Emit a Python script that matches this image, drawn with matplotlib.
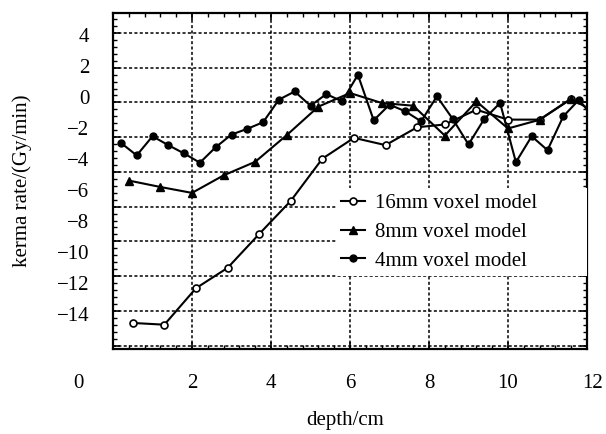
import matplotlib
matplotlib.use('Agg')
import matplotlib.pyplot as plt
from matplotlib.ticker import MultipleLocator
from matplotlib.transforms import ScaledTranslation

plt.rcParams['font.family'] = ['Liberation Serif', 'DejaVu Serif']

# 16mm voxel model
x16 = [0.5, 1.3, 2.1, 2.9, 3.7, 4.5, 5.3, 6.1, 6.9, 7.7, 8.4, 9.2, 10.0, 10.8, 11.6]
y16 = [-12.70, -12.80, -10.70, -9.53, -7.58, -5.67, -3.24, -2.04, -2.46, -1.43,
       -1.27, -0.42, -0.99, -0.99, 0.22]

# 8mm voxel model
x8 = [0.4, 1.2, 2.0, 2.8, 3.6, 4.4, 5.2, 6.0, 6.8, 7.6, 8.4, 9.2, 10.0, 10.8, 11.6, 12.4]
y8 = [-4.50, -4.87, -5.21, -4.20, -3.42, -1.88, -0.24, 0.54, -0.03, -0.19,
      -1.91, 0.06, -1.50, -1.00, 0.20, -0.80]

# 4mm voxel model
x4 = [0.2, 0.6, 1.0, 1.4, 1.8, 2.2, 2.6, 3.0, 3.4, 3.8, 4.2, 4.6, 5.0, 5.4, 5.8, 6.2,
      6.6, 7.0, 7.4, 7.8, 8.2, 8.6, 9.0, 9.4, 9.8, 10.2, 10.6, 11.0, 11.4, 11.8, 12.2]
y4 = [-2.33, -3.05, -1.95, -2.46, -2.94, -3.47, -2.58, -1.85, -1.52, -1.14, 0.16, 0.63,
      -0.19, 0.48, 0.06, 1.59, -1.03, -0.13, -0.51, -1.09, 0.35, -0.95, -2.42, -0.95,
      -0.03, -3.44, -1.95, -2.75, -0.80, 0.16, -1.00]

y_labels = list(range(-14, 5, 2))
x_labels = list(range(0, 13, 2))

W, H = 606, 434
fig = plt.figure(figsize=(W / 100, H / 100), dpi=100)
ax = fig.add_axes([113 / W, 1 - 349 / H, 474 / W, 336 / H])

ax.plot(x16, y16, '-o', color='k', mfc='white', ms=5, mew=1.2, lw=1.5, label='16mm voxel model')
ax.plot(x8, y8, '-^', color='k', ms=6, lw=1.5, label='8mm voxel model')
ax.plot(x4, y4, '-o', color='k', ms=5, lw=1.5, label='4mm voxel model')

ax.set_xlim(0, 12)
ax.set_ylim(-14.2, 5.15)
ax.xaxis.set_major_locator(MultipleLocator(2))
ax.xaxis.set_minor_locator(MultipleLocator(0.4))
ax.yaxis.set_major_locator(MultipleLocator(2))
ax.yaxis.set_minor_locator(MultipleLocator(0.4))
ax.grid(True, which='major', color='k', linestyle=(0, (2, 1.5)), linewidth=1.1)
ax.tick_params(which='both', direction='in', top=True, right=True, labelleft=False)
ax.tick_params(which='major', length=5, width=1.2)
ax.tick_params(which='minor', length=3, width=1)
ax.tick_params(axis='x', labelsize=15, pad=18)
for s in ax.spines.values():
    s.set_linewidth(1.6)

# y labels in the scan are squeezed against the grid
def to_lab(y):
    return (y - 0.33) / 0.8945

def from_lab(v):
    return v * 0.8945 + 0.33

sec = ax.secondary_yaxis('left', functions=(to_lab, from_lab))
sec.set_yticks(y_labels)
sec.tick_params(length=0, pad=17, labelsize=15)
sec.spines['left'].set_visible(False)

ax.set_xticks(x_labels)
ax.set_xticklabels([str(v) for v in x_labels])

leg = ax.legend(loc='upper left', bbox_to_anchor=(0.47, 0.241, 0.53, 0.238), mode='expand',
                frameon=True, fancybox=False, edgecolor='none', facecolor='white', framealpha=1,
                fontsize=15, handlelength=1.15, handletextpad=0.5, labelspacing=0.45,
                borderaxespad=0, borderpad=0.25)

fig.text(22 / W, 1 - 181 / H, 'kerma rate/(Gy/min)', rotation=90, ha='center', va='center', fontsize=15)
fig.text(345 / W, 1 - 421 / H, 'depth/cm', ha='center', va='center', fontsize=15)

lbls = ax.get_xticklabels()
lbls[0].set_transform(lbls[0].get_transform() + ScaledTranslation(-0.35, 0, fig.dpi_scale_trans))
lbls[-1].set_transform(lbls[-1].get_transform() + ScaledTranslation(0.06, 0, fig.dpi_scale_trans))

fig.savefig('out.png', dpi=100)
